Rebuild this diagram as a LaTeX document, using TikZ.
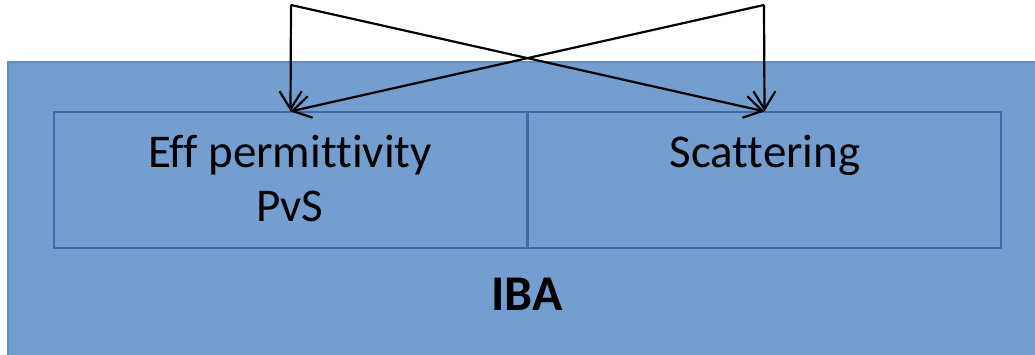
\documentclass[tikz,border=0pt]{standalone}
\usepackage{fontspec}
\setmainfont{Carlito}[Ligatures={NoCommon}]
\usetikzlibrary{arrows.meta}
\definecolor{panelfill}{RGB}{114,159,207}
\definecolor{panelline}{RGB}{96,142,196}
\definecolor{boxline}{RGB}{62,108,170}
\tikzset{
  cell/.style={draw=boxline, line width=1.2pt, minimum width=473pt, minimum height=136pt, inner sep=0pt},
  lbl/.style={anchor=base, inner sep=0pt, font=\fontsize{47}{54}\selectfont},
  flow/.style={line width=2.2pt, -{Straight Barb[length=18pt, width=22pt, line width=2.2pt]}},
}
\begin{document}
\begin{tikzpicture}[x=1pt, y=-1pt]
\useasboundingbox (0,0) rectangle (1035,355);
% outer panel
\fill[panelfill] (8,62) rectangle (1035,355);
\draw[panelline, line width=1.2pt] (8,355) -- (8,62) -- (1035,62);
% two cells
\node[cell] (effbox) at (290.5,180) {};
\node[cell] (scatbox) at (764.5,180) {};
% labels
\node[lbl] (efftxt) at (290,168) {Eff permittivity};
\node[lbl] (pvstxt) at (290,222) {PvS};
\node[lbl] (scattxt) at (765,168) {Scattering};
\node[lbl, font=\fontsize{50}{58}\selectfont\bfseries] (ibatxt) at (527,310) {IBA};
% crossing arrows
\coordinate (topl) at (291,5);
\coordinate (topr) at (764,5);
\draw[flow] (topl) -- (effbox.north);
\draw[flow] (topl) -- (scatbox.north);
\draw[flow] (topr) -- (scatbox.north);
\draw[flow] (topr) -- (effbox.north);
\end{tikzpicture}
\end{document}
